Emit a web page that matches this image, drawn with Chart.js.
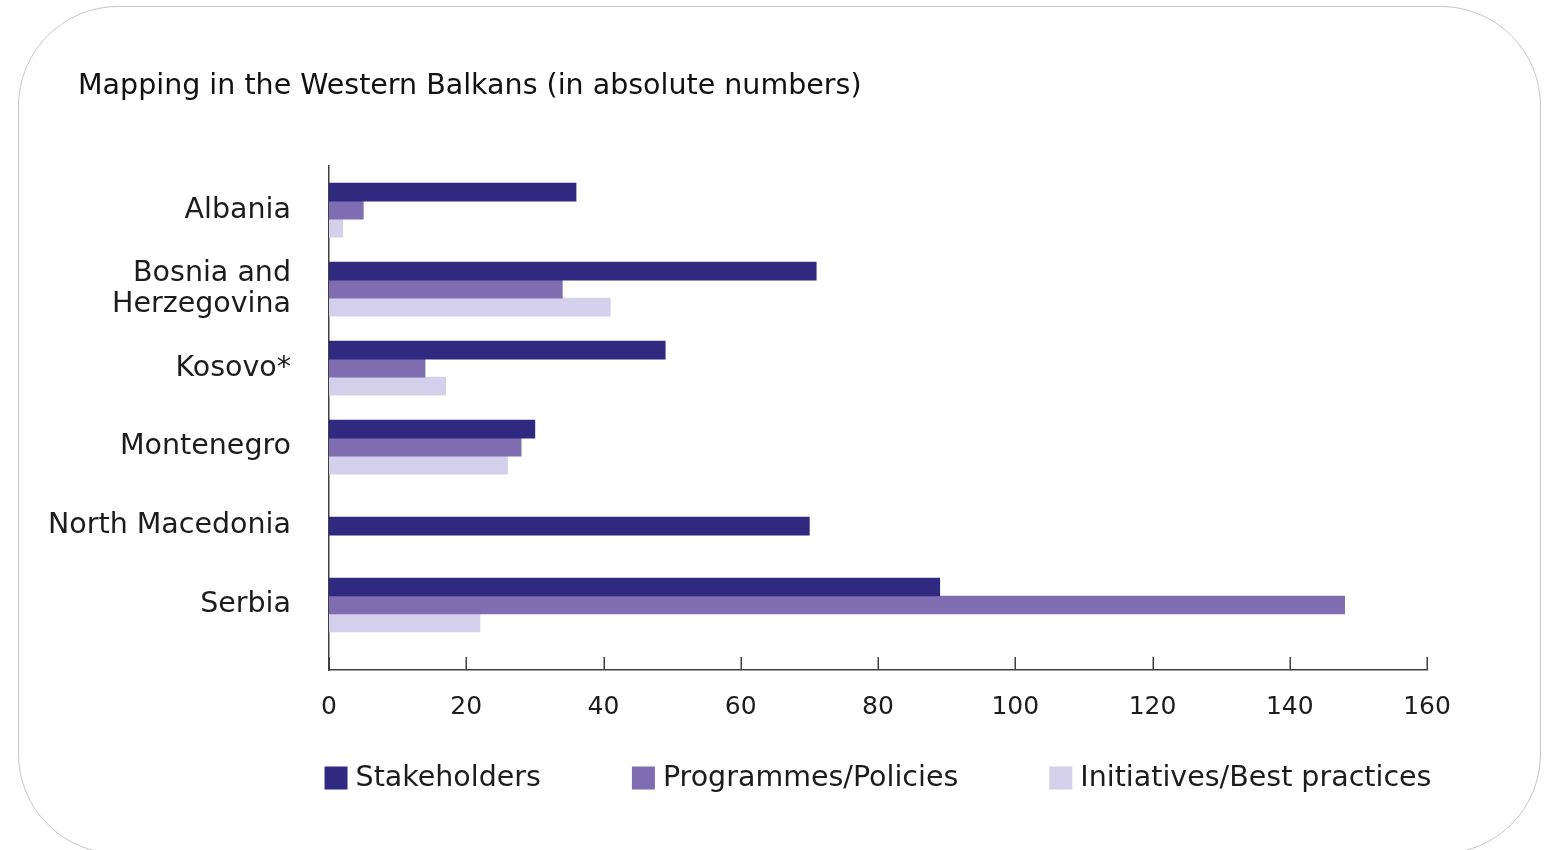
<!DOCTYPE html>
<html>
<head>
<meta charset="utf-8">
<script src="https://cdn.jsdelivr.net/npm/chart.js@4"></script>
<style>
  html, body { margin: 0; padding: 0; background: #ffffff; overflow: hidden; }
  #card { position: absolute; left: 18px; top: 6px; width: 1521px; height: 846px;
          border: 1.5px solid #c6c6c6; border-radius: 100px; background: #fff; }
  #wrap { position: absolute; left: 0; top: 0; width: 1551px; height: 850px; }
</style>
</head>
<body>
<div id="card"></div>
<div id="wrap"><canvas id="c" width="1551" height="850"></canvas></div>
<script>
// ---- data ----
const categories = ['Albania', ['Bosnia and', 'Herzegovina'], 'Kosovo*', 'Montenegro', 'North Macedonia', 'Serbia'];
const seriesNames = ['Stakeholders', 'Programmes/Policies', 'Initiatives/Best practices'];
const stakeholders = [36, 71, 49, 30, 70, 89];
const programmes   = [5, 34, 14, 28, null, 148];
const initiatives  = [2, 41, 17, 26, null, 22];
const xTicks = [0, 20, 40, 60, 80, 100, 120, 140, 160];

// ---- styles ----
const FONT = "'DejaVu Sans', sans-serif";
const colors = ['#2f2a80', '#7e6db0', '#d4cfea'];
const axisColor = '#404040';
const textColor = '#1c1c1c';
const TITLE_LEFT = 78;

Chart.defaults.font.family = FONT;
Chart.defaults.color = textColor;

const toPoints = arr => arr.map((v, i) => ({ x: v, y: i }));

const upTicks = {
  id: 'upTicks',
  afterDraw(chart) {
    const xs = chart.scales.x;
    const ctx = chart.ctx;
    ctx.save();
    ctx.strokeStyle = axisColor;
    ctx.lineWidth = 1.5;
    xs.ticks.forEach(t => {
      const px = Math.round(xs.getPixelForValue(t.value)) + 0.25;
      ctx.beginPath();
      ctx.moveTo(px, xs.top);
      ctx.lineTo(px, xs.top - 13);
      ctx.stroke();
    });
    ctx.restore();
  }
};

const titleShift = {
  id: 'titleShift',
  afterLayout(chart) {
    if (chart.titleBlock) chart.titleBlock.left = TITLE_LEFT;
  }
};

const spreadLegend = {
  id: 'spreadLegend',
  afterDraw(chart) {
    const { ctx, chartArea } = chart;
    const ds = chart.data.datasets;
    const BOX = 23, GAP = 8, ITEM_GAP = 91;
    ctx.save();
    ctx.font = '28.5px ' + FONT;
    const widths = ds.map(d => BOX + GAP + ctx.measureText(d.label).width);
    const total = widths.reduce((a, b) => a + b, 0) + ITEM_GAP * (ds.length - 1);
    let x = (chartArea.left + chartArea.right) / 2 - total / 2;
    const cy = chart.scales.x.bottom + 34;
    ds.forEach((d, i) => {
      ctx.fillStyle = d.backgroundColor;
      ctx.fillRect(x, cy - BOX / 2, BOX, BOX);
      ctx.fillStyle = textColor;
      ctx.textBaseline = 'middle';
      ctx.textAlign = 'left';
      ctx.fillText(d.label, x + BOX + GAP, cy + 1);
      x += widths[i] + ITEM_GAP;
    });
    ctx.restore();
  }
};

const seriesData = [stakeholders, programmes, initiatives];

new Chart(document.getElementById('c'), {
  type: 'bar',
  data: {
    datasets: seriesNames.map((name, k) => ({
      label: name,
      data: toPoints(seriesData[k]),
      backgroundColor: colors[k],
      borderWidth: 0,
      barThickness: 18,
      skipNull: true
    }))
  },
  options: {
    indexAxis: 'y',
    responsive: false,
    animation: false,
    layout: { padding: { left: 40, right: 124, top: 69, bottom: 106 } },
    scales: {
      x: {
        type: 'linear',
        min: xTicks[0],
        max: xTicks[xTicks.length - 1],
        afterBuildTicks: s => { s.ticks = xTicks.map(v => ({ value: v })); },
        grid: { display: false, drawTicks: false },
        border: { display: true, color: axisColor, width: 1.5 },
        ticks: { padding: 22, font: { size: 25, lineHeight: 1.2 }, color: textColor }
      },
      y: {
        type: 'linear',
        bounds: 'data',
        offset: false,
        reverse: true,
        min: -0.557,
        max: 5.823,
        afterBuildTicks: s => { s.ticks = categories.map((c, i) => ({ value: i })); },
        afterFit: s => { s.width = 289; },
        grid: { display: false, drawTicks: false, offset: false },
        border: { display: true, color: axisColor, width: 1.5 },
        ticks: {
          padding: 38,
          font: { size: 28.5, lineHeight: 1.07 },
          color: textColor,
          callback: v => categories[v]
        }
      }
    },
    plugins: {
      legend: { display: false },
      tooltip: { enabled: false },
      title: {
        display: true,
        text: 'Mapping in the Western Balkans (in absolute numbers)',
        align: 'start',
        color: '#111111',
        font: { size: 28.5, weight: 'normal', lineHeight: 1.2 },
        padding: { top: 0, bottom: 63 }
      }
    }
  },
  plugins: [upTicks, titleShift, spreadLegend]
});
</script>
</body>
</html>
